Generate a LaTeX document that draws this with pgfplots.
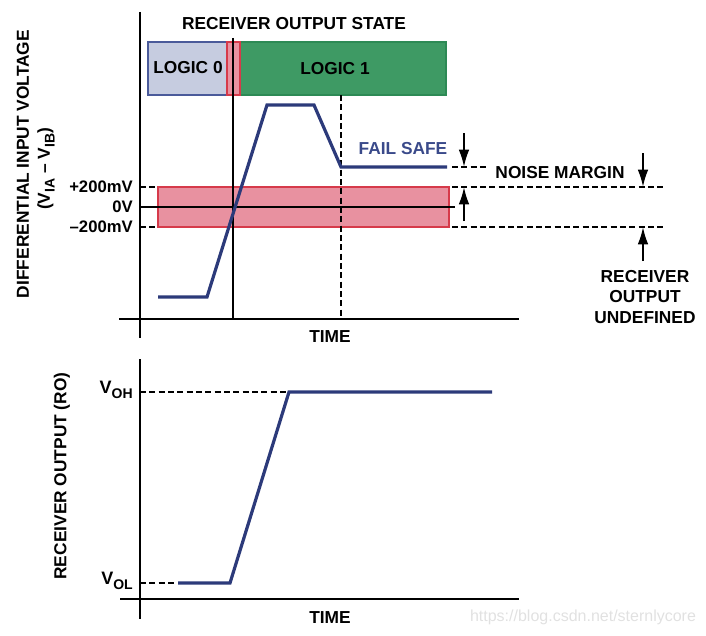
\documentclass[border=0pt]{standalone}
\usepackage{pgfplots}
\pgfplotsset{compat=1.18}
\usetikzlibrary{arrows.meta}
\usepackage{fontspec}
\setmainfont{Liberation Sans}

\definecolor{sig}{RGB}{44,58,122}
\definecolor{failblue}{RGB}{58,74,138}
\definecolor{bandfill}{RGB}{232,145,160}
\definecolor{bandedge}{RGB}{214,58,74}
\definecolor{l0fill}{RGB}{198,204,224}
\definecolor{l0edge}{RGB}{74,90,154}
\definecolor{l1fill}{RGB}{62,154,100}
\definecolor{l1edge}{RGB}{45,138,85}
\definecolor{wmark}{RGB}{225,225,225}

% larger subscript, as in the reference
\newcommand{\sub}[1]{\raisebox{-0.28em}{\fontsize{10.5}{12}\selectfont #1}}

\tikzset{
  lbl/.style={font=\fontsize{13}{15}\selectfont\bfseries, inner sep=0pt},
  tck/.style={font=\fontsize{12.5}{14}\selectfont\bfseries, inner sep=0pt, anchor=east},
  dsh/.style={black, line width=0.8pt, dash pattern=on 4.5pt off 2.5pt},
  arr/.style={black, line width=1.5pt, -{Latex[length=13pt,width=8pt]}},
}

\begin{document}
\begin{tikzpicture}
\begin{axis}[
  scale only axis,
  width=529.5pt, height=476.25pt,
  xmin=0, xmax=706, ymin=0, ymax=635,
  y dir=reverse,
  hide axis,
  clip=false,
]
\path (axis cs:0,0) (axis cs:706,635);

% ---------- top panel: differential input ----------
% receiver output state boxes
\addplot[fill=l0fill, draw=l0edge, line width=1pt] coordinates {(148,42) (227,42) (227,95) (148,95)} -- cycle;
\addplot[fill=l1fill, draw=l1edge, line width=1pt] coordinates {(240,42) (446,42) (446,95) (240,95)} -- cycle;
\addplot[fill=bandfill, draw=bandedge, line width=1pt] coordinates {(227,42) (240,42) (240,95) (227,95)} -- cycle;

% undefined band
\addplot[fill=bandfill, draw=bandedge, line width=1.2pt] coordinates {(158,187) (449,187) (449,227) (158,227)} -- cycle;
\addplot[black, line width=0.8pt] coordinates {(140,207) (455,207)};

% level dashes
\draw[dsh] (axis cs:140,187) -- (axis cs:158,187);
\draw[dsh] (axis cs:140,207) -- (axis cs:158,207);
\draw[dsh] (axis cs:140,227) -- (axis cs:158,227);
\draw[dsh] (axis cs:452,187) -- (axis cs:665,187);
\draw[dsh] (axis cs:452,227) -- (axis cs:665,227);
\draw[dsh] (axis cs:452,167) -- (axis cs:487,167);

% time markers
\addplot[black, line width=0.8pt] coordinates {(233,38) (233,319)};
\addplot[dsh] coordinates {(341,95) (341,319)};

% input signal
\addplot[sig, line width=2.4pt, line join=miter] coordinates {
(158,297) (207,297) (267,105) (314,105) (341,167) (447,167)
};

% axes
\draw[black, line width=1.6pt] (axis cs:140,12) -- (axis cs:140,338);
\draw[black, line width=1.6pt] (axis cs:119,319) -- (axis cs:519,319);

% arrows
\draw[arr] (axis cs:464,133) -- (axis cs:464,167);
\draw[arr] (axis cs:464,221) -- (axis cs:464,187);
\draw[arr] (axis cs:643,153) -- (axis cs:643,187);
\draw[arr] (axis cs:643,261) -- (axis cs:643,227);

% text
\node[lbl] at (axis cs:294,24) {RECEIVER OUTPUT STATE};
\node[lbl] at (axis cs:188,68) {LOGIC 0};
\node[lbl] at (axis cs:335,69) {LOGIC 1};
\node[lbl, text=failblue] at (axis cs:403,149) {FAIL SAFE};
\node[lbl] at (axis cs:560,173) {NOISE MARGIN};
\node[lbl, align=center, font=\fontsize{13}{15.4}\selectfont\bfseries] at (axis cs:645,297) {RECEIVER\\OUTPUT\\UNDEFINED};
\node[lbl] at (axis cs:330,337) {TIME};
\node[tck] at (axis cs:133,187) {+200mV};
\node[tck] at (axis cs:133,207) {0V};
\node[tck] at (axis cs:133,227) {–200mV};
\node[lbl, rotate=90] at (axis cs:23,164) {DIFFERENTIAL INPUT VOLTAGE};
\node[lbl, rotate=90] at (axis cs:46,169) {(V\sub{IA} – V\sub{IB})};

% ---------- bottom panel: receiver output ----------
\draw[dsh] (axis cs:140,392) -- (axis cs:290,392);
\draw[dsh] (axis cs:140,583) -- (axis cs:176,583);

\addplot[sig, line width=2.4pt, line join=miter] coordinates {
(178,583) (230,583) (289,392) (492,392)
};

\draw[black, line width=1.6pt] (axis cs:140,359) -- (axis cs:140,619);
\draw[black, line width=1.6pt] (axis cs:120,599) -- (axis cs:519,599);

\node[tck, font=\fontsize{13.5}{15}\selectfont\bfseries] at (axis cs:133,390) {V\sub{OH}};
\node[tck, font=\fontsize{13.5}{15}\selectfont\bfseries] at (axis cs:133,581) {V\sub{OL}};
\node[lbl, rotate=90] at (axis cs:62,476) {RECEIVER OUTPUT (RO)};
\node[lbl] at (axis cs:330,618) {TIME};

\node[inner sep=0pt, text=wmark, font=\fontsize{12}{14}\selectfont] at (axis cs:583,617) {https://blog.csdn.net/sternlycore};
\end{axis}
\end{tikzpicture}
\end{document}
